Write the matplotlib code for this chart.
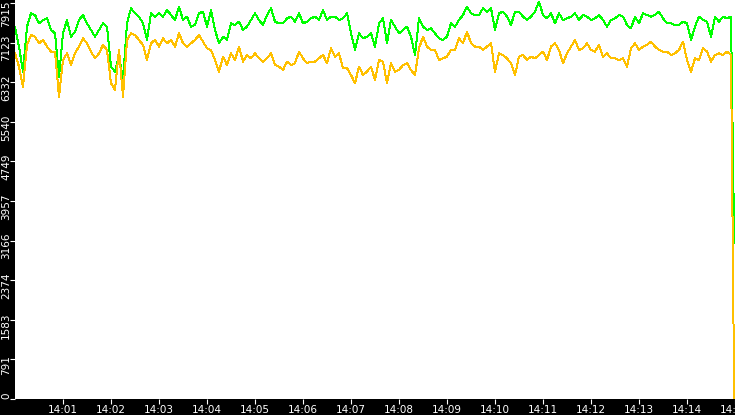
import matplotlib
matplotlib.use("Agg")
import matplotlib.pyplot as plt
import matplotlib.dates as mdates
import pandas as pd

day = "2024-01-01 "

# samples every 5 seconds, 14:00:00 .. 14:14:55, then the last reading
times = list(pd.date_range(day + "14:00:00", periods=180, freq="5s"))
end_time = pd.Timestamp(day + "14:14:59")

green = [7443, 7044, 6544, 7443, 7710, 7676, 7510, 7576, 7610, 7377,
         7310, 6444, 7310, 7576, 7243, 7343, 7576, 7676, 7510, 7377,
         7243, 7377, 7510, 7443, 6644, 6544, 6877, 6378, 7510, 7810,
         7710, 7643, 7510, 7177, 7710, 7643, 7710, 7643, 7776, 7676,
         7576, 7843, 7576, 7643, 7443,
         7476, 7710, 7743, 7443, 7776, 7377, 7110, 7243, 7177, 7510,
         7476, 7543, 7377, 7443, 7576, 7710, 7576, 7476, 7676, 7810,
         7543, 7510, 7510, 7610, 7643, 7543, 7710, 7510, 7543, 7610,
         7643, 7576, 7776, 7576, 7643, 7643, 7576, 7610, 7710, 7310,
         6977, 7310, 7210, 7243, 7310,
         7044, 7510, 7610, 7110, 7576, 7443, 7310, 7377, 7443, 7243,
         6877, 7610, 7443, 7377, 7410, 7310, 7210, 7177, 7243, 7510,
         7443, 7576, 7676, 7843, 7710, 7676, 7676, 7810, 7743, 7810,
         7377, 7710, 7743, 7643, 7476, 7743, 7743, 7643, 7576, 7643,
         7743, 7943, 7676, 7610, 7710,
         7510, 7710, 7576, 7610, 7643, 7710, 7576, 7676, 7643, 7576,
         7610, 7676, 7576, 7443, 7576, 7610, 7676, 7643, 7476, 7410,
         7643, 7510, 7710, 7676, 7643, 7676, 7743, 7610, 7510, 7510,
         7476, 7476, 7543, 7510, 7177, 7443, 7643, 7576, 7543, 7243,
         7643, 7543, 7643, 7610, 7643]

orange = [6910, 6644, 6244, 7077, 7277, 7243, 7110, 7177, 7044, 6944,
          6944, 6044, 6777, 6910, 6677, 6910, 7044, 7210, 7110, 6944,
          6810, 6910, 7077, 6977, 6311, 6178, 6977, 6044, 7177, 7310,
          7277, 7177, 7077, 6777, 7110, 7177, 7044, 7210, 7110, 7177,
          7044, 7310, 7110, 7044, 7110,
          7177, 7277, 7143, 7010, 6977, 6777, 6544, 6844, 6677, 6910,
          6777, 7044, 6744, 6877, 6810, 6910, 6810, 6744, 6810, 6910,
          6677, 6644, 6577, 6744, 6677, 6711, 6944, 6810, 6711, 6744,
          6744, 6810, 6877, 6711, 7010, 6844, 6910, 6611, 6611, 6477,
          6311, 6644, 6477, 6544, 6644,
          6378, 6777, 6744, 6311, 6711, 6544, 6577, 6677, 6711, 6577,
          6477, 7010, 7243, 7044, 6977, 6977, 6777, 6810, 6844, 6977,
          6977, 7210, 7110, 7343, 7110, 7044, 7044, 6977, 7044, 7110,
          6544, 6910, 6877, 6810, 6711, 6477, 6844, 6877, 6777, 6844,
          6810, 6877, 6944, 6777, 7044,
          7110, 6977, 6711, 6910, 7044, 7177, 6977, 7010, 7110, 6977,
          6944, 7077, 6844, 6910, 6810, 6810, 6777, 6810, 6644, 7010,
          7110, 6977, 7044, 7077, 7143, 7044, 6977, 6944, 6944, 6877,
          6910, 6977, 7143, 6777, 6544, 6810, 6777, 7010, 6944, 6744,
          6877, 6910, 6877, 6944, 6877]

green_end = 3120
orange_end = 0

ytick_vals = [0, 791.5, 1583, 2374.5, 3166, 3957.5, 4749, 5540.5, 6332, 7123.5, 7915]
ytick_labels = ["0", "791", "1583", "2374", "3166", "3957", "4749", "5540", "6332", "7123", "7915"]

fig = plt.figure(figsize=(7.35, 4.15), dpi=100, facecolor="black")
ax = fig.add_axes([15 / 735, 16 / 415, 720 / 735, 399 / 415])
ax.set_facecolor("white")

ax.plot(times + [end_time], green + [green_end], color="#00ff00", lw=0.72, antialiased=False)
ax.plot(times + [end_time], orange + [orange_end], color="#ffc000", lw=0.72, antialiased=False)

ax.set_xlim(pd.Timestamp(day + "14:00"), pd.Timestamp(day + "14:15"))
ax.set_ylim(0, 7976)
for s in ax.spines.values():
    s.set_visible(False)

ax.set_xticks(pd.date_range(day + "14:01", day + "14:15", freq="1min"))
ax.xaxis.set_major_formatter(mdates.DateFormatter("%H:%M"))
ax.tick_params(axis="x", colors="white", length=3.6, width=0.8, pad=1.0, labelsize=7.5)

# y labels are rotated and sit a little below their tick
ax.set_yticks(ytick_vals)
ax.set_yticklabels([])
ax.tick_params(axis="y", colors="white", length=3.6, width=0.8)
for v, lab in zip(ytick_vals, ytick_labels):
    if v == 0:
        va, dy = "bottom", 0
    elif v == ytick_vals[-1]:
        va, dy = "top", 1.5
    else:
        va, dy = "center", -4.0
    ax.annotate(lab, xy=(0, v), xycoords=("axes fraction", "data"),
                xytext=(-6.5, dy), textcoords="offset points",
                rotation=90, ha="center", va=va, color="white",
                fontsize=7.5, annotation_clip=False)

fig.savefig("out.png", dpi=100, facecolor="black")
